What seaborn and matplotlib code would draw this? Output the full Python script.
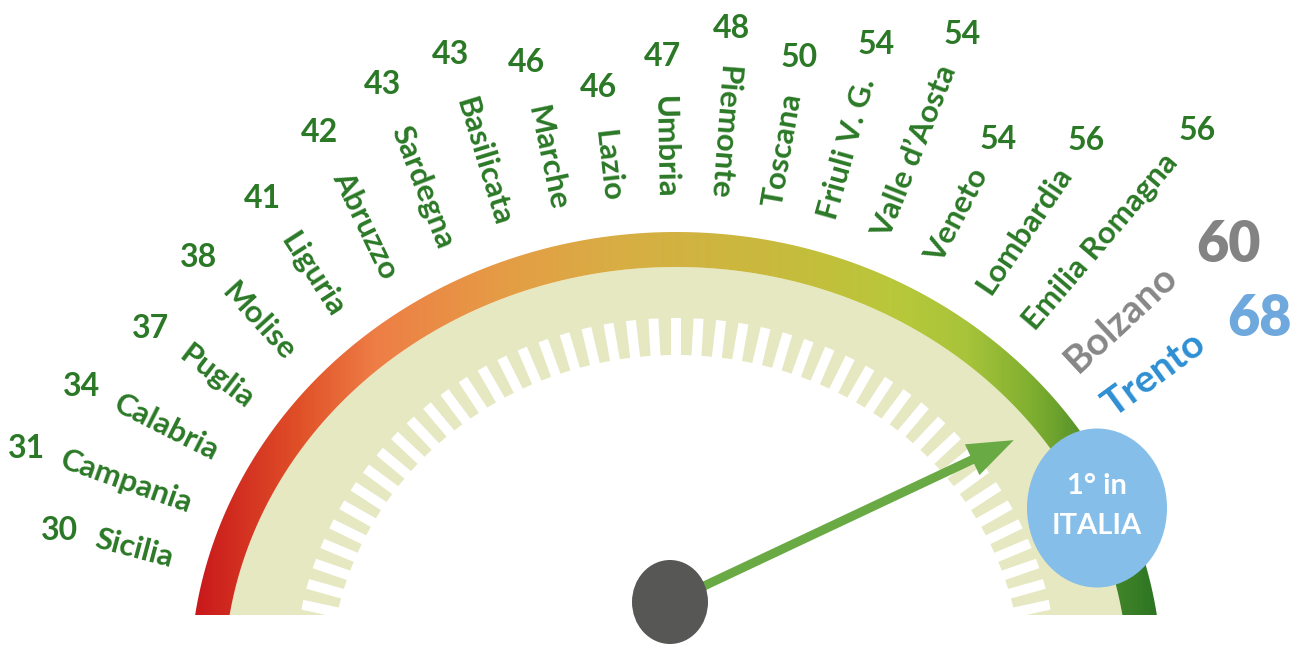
import numpy as np
import matplotlib
matplotlib.use("Agg")
import matplotlib.pyplot as plt
from matplotlib.colors import LinearSegmentedColormap
from matplotlib.patches import Polygon, Ellipse, FancyArrow
import seaborn as sns

# ---- data -------------------------------------------------------------
regions = ["Sicilia", "Campania", "Calabria", "Puglia", "Molise", "Liguria",
           "Abruzzo", "Sardegna", "Basilicata", "Marche", "Lazio", "Umbria",
           "Piemonte", "Toscana", "Friuli V. G.", "Valle d\u2019Aosta", "Veneto",
           "Lombardia", "Emilia Romagna", "Bolzano", "Trento"]
scores = [30, 31, 34, 37, 38, 41, 42, 43, 43, 46, 46, 47, 48, 50,
          54, 54, 54, 56, 56, 60, 68]
badge_lines = ["1\u00b0 in", "ITALIA"]

# ---- style ------------------------------------------------------------
sns.set_theme(style="white")
plt.rcParams["font.family"] = ["Lato", "DejaVu Sans"]

GREEN_TXT = "#2b7927"
name_colors = {"Bolzano": "#878787", "Trento": "#2e8fd3"}
score_colors = {"Bolzano": "#838383", "Trento": "#6fa8dc"}
BEIGE = "#e6e8c1"
NEEDLE = "#6aaa45"
HUB = "#575756"
BADGE = "#85bee9"

band_stops = [(0.00, "#c8161b"), (0.11, "#e05028"), (0.19, "#ee7e46"),
              (0.32, "#e59c45"), (0.44, "#d8ae44"), (0.59, "#c9b93d"),
              (0.73, "#b8c83a"), (0.80, "#a8c43a"), (0.87, "#7eae30"),
              (0.93, "#4f8e2a"), (1.00, "#2b7424")]
band_cmap = LinearSegmentedColormap.from_list("gauge", band_stops)

W, H = 1294, 647
fig = plt.figure(figsize=(W / 100, H / 100), dpi=100)
ax = fig.add_axes([0, 0, 1, 1])

# gauge geometry (ellipse centre sits below the flat base line)
CX, CY, BASE = 676.0, 680.0, 615.0
BAND_OUT = (486, 448)
BAND_IN = (452, 413)
TICK_OUT = (382, 362)
TICK_IN = (346, 325)
LABEL_RING = (520, 482)


def ellipse_pt(a, b, t):
    return CX + a * np.cos(t), CY - b * np.sin(t)


def cut_angle(b):
    return np.arcsin((CY - BASE) / b)


def ring(outer, inner=None, n=400):
    t0 = cut_angle(outer[1])
    t = np.linspace(t0, np.pi - t0, n)
    xo, yo = ellipse_pt(outer[0], outer[1], t)
    if inner is None:
        return np.column_stack([xo, yo])
    t1 = cut_angle(inner[1])
    ti = np.linspace(np.pi - t1, t1, n)
    xi, yi = ellipse_pt(inner[0], inner[1], ti)
    return np.column_stack([np.r_[xo, xi], np.r_[yo, yi]])


def bump(i, centre, width):
    return np.exp(-((i - centre) / width) ** 2)


# beige dial face
ax.add_patch(Polygon(ring(BAND_IN), closed=True, fc=BEIGE, ec="none", zorder=1))

# coloured outer band: horizontal gradient clipped to the band shape
band = Polygon(ring(BAND_OUT, BAND_IN), closed=True, fc="none", ec="none", zorder=2)
ax.add_patch(band)
grad = np.linspace(0, 1, 800)[None, :]
im = ax.imshow(grad, cmap=band_cmap, aspect="auto", interpolation="bilinear",
               extent=(CX - BAND_OUT[0], CX + BAND_OUT[0], BASE, CY - BAND_OUT[1]),
               zorder=2)
im.set_clip_path(band)

# white centre and white scale ticks
ax.add_patch(Polygon(ring(TICK_IN), closed=True, fc="white", ec="none", zorder=3))
for t in np.deg2rad(np.linspace(12, 168, 47)):
    x0, y0 = ellipse_pt(TICK_IN[0] - 6, TICK_IN[1] - 6, t)
    x1, y1 = ellipse_pt(TICK_OUT[0], TICK_OUT[1], t)
    ax.plot([x0, x1], [y0, y1], color="white", lw=7.2,
            solid_capstyle="butt", zorder=3)

# ---- region labels and scores around the dial ------------------------
renderer = fig.canvas.get_renderer()
n = len(regions)
idx = np.arange(n)
# evenly spread along the ring, packed slightly clockwise over the upper left
label_t = np.deg2rad(np.linspace(165.5, 34.2, n) - 3.5 * bump(idx, 8.0, 4.2))
# small hand tilt of the text direction on the left flank
tilt = 4 * bump(idx, 1.5, 1.2) - 6 * bump(idx, 5.5, 2.0)

label_mid = []
for i, (name, val, t) in enumerate(zip(regions, scores, label_t)):
    big = name in name_colors
    fs = 28 if big else 22.5
    col = name_colors.get(name, GREEN_TXT)
    px, py = ellipse_pt(LABEL_RING[0], LABEL_RING[1], t)
    phi = np.degrees(np.arctan2(LABEL_RING[0] * np.sin(t), LABEL_RING[1] * np.cos(t)))
    phi += tilt[i]
    inward = phi > 85
    rot = phi - 180 if inward else phi
    ha = "right" if inward else "left"
    txt = ax.text(px, py, name, fontsize=fs, fontweight="bold", color=col,
                  rotation=0, ha=ha, va="center", rotation_mode="anchor", zorder=8)
    w = txt.get_window_extent(renderer).width
    txt.set_rotation(rot)
    ux, uy = np.cos(np.radians(phi)), np.sin(np.radians(phi))
    label_mid.append((px + ux * w / 2, py - uy * w / 2))

    nfs = 40 if big else 23
    nweight = "heavy" if big else "bold"
    ncol = score_colors.get(name, GREEN_TXT)
    num = ax.text(0, 0, str(val), fontsize=nfs, fontweight=nweight, color=ncol,
                  ha="center", va="baseline", zorder=8)
    nw = num.get_window_extent(renderer).width
    nh = 0.72 * nfs * 100 / 72
    # large scores sit a little lower than the label's own direction
    nphi = np.radians(phi - 5 if big else phi)
    vx, vy = np.cos(nphi), np.sin(nphi)
    half = abs(vx) * nw / 2 + abs(vy) * nh / 2
    gap = 24 if big else 16 + 16 * np.exp(-((phi - 103) / 28) ** 2)
    d = w + gap + half
    nx, ny = px + vx * d, py - vy * d
    num.set_position((nx, ny + nh / 2))

# ---- needle towards the top score ------------------------------------
best = int(np.argmax(scores))
hub = (670.0, 602.0)
tx, ty = label_mid[best]
vx, vy = tx - hub[0], ty - hub[1]
norm = np.hypot(vx, vy)
L = 380
ax.add_patch(FancyArrow(hub[0], hub[1], vx / norm * L, vy / norm * L, width=9,
                        head_width=34, head_length=46, length_includes_head=True,
                        color=NEEDLE, ec="none", zorder=5))
ax.add_patch(Ellipse(hub, 76, 84, fc=HUB, ec="none", zorder=6))

# ---- badge -----------------------------------------------------------
bx, by = 1097, 508
ax.add_patch(Ellipse((bx, by), 140, 159, fc=BADGE, ec="none", zorder=7))
ax.text(bx, by - 22, badge_lines[0], fontsize=21, fontweight="bold",
        color="white", ha="center", va="center", zorder=8)
ax.text(bx, by + 18, badge_lines[1], fontsize=21, fontweight="bold",
        color="white", ha="center", va="center", zorder=8)

ax.set_xlim(0, W)
ax.set_ylim(H, 0)
ax.set_axis_off()
fig.savefig("out.png", dpi=100, facecolor="white")
